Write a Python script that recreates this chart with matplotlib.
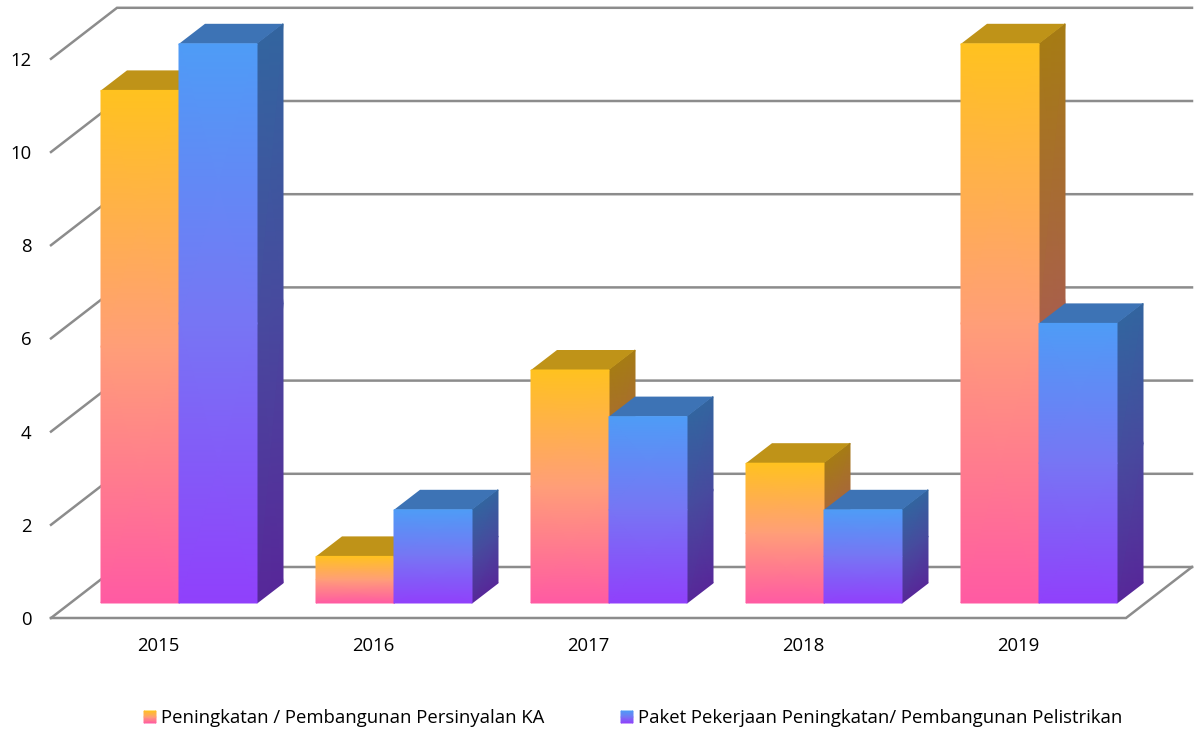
import numpy as np
import matplotlib.pyplot as plt
from matplotlib.colors import to_rgb

years = ['2015', '2016', '2017', '2018', '2019']
persinyalan = [11, 1, 5, 3, 12]
pelistrikan = [12, 2, 4, 2, 6]
y_ticks = [0, 2, 4, 6, 8, 10, 12]
legend_labels = ['Peningkatan / Pembangunan Persinyalan KA',
                 'Paket Pekerjaan Peningkatan/ Pembangunan Pelistrikan']

W, H = 1198, 731
plt.rcParams['font.family'] = ['Open Sans', 'DejaVu Sans']

fig = plt.figure(figsize=(W / 100, H / 100), dpi=100)
# axes = the front edge of the 3d box
ax = fig.add_axes([51 / W, 1 - 618 / H, 1075 / W, 559.2 / H])
ax.set_xlim(-0.5, 4.5)
ax.set_ylim(0, 12)
px_x = 5 / 1075
px_y = 12 / 559.2

depth_x, depth_y = 66 * px_x, 51 * px_y
bar_w = 78 * px_x
bar_dx, bar_dy = 26 * px_x, 20 * px_y
off_x, off_y = 20.5 * px_x, 15 * px_y

# top, middle, bottom of the fill
orange_front = ('#FFC21F', '#FF9E78', '#FF5AA3')
blue_front = ('#4E9CF6', '#7775F4', '#9040FB')
orange_side = ('#A67C14', '#A8604A', '#A83C70')
blue_side = ('#33659F', '#484A9E', '#572899')


def gradient(a, xl, xr, yl, yr, colors):
    # left edge goes yl[0]..yl[1], right edge yr[0]..yr[1], bottom to top
    x = np.array([[xl, xr]] * 3)
    y = np.array([np.linspace(yl[0], yl[1], 3), np.linspace(yr[0], yr[1], 3)]).T
    c = np.array([[to_rgb(col)] * 2 for col in colors[::-1]])
    a.pcolormesh(x, y, c, shading='gouraud', clip_on=False, zorder=3)


def bar3d(x0, v, front, side, roof):
    x1 = x0 + bar_w
    y0 = off_y
    y1 = off_y + v
    gradient(ax, x1, x1 + bar_dx, (y0, y1), (y0 + bar_dy, y1 + bar_dy), side)
    ax.fill([x0, x1, x1 + bar_dx, x0 + bar_dx], [y1, y1, y1 + bar_dy, y1 + bar_dy],
            color=roof, lw=0, clip_on=False, zorder=3)
    gradient(ax, x0, x1, (y0, y1), (y0, y1), front)


# walls
grid_c = '#8c8c8c'
for t in y_ticks:
    ax.plot([-0.5, -0.5 + depth_x, 4.5 + depth_x],
            [t, t + depth_y, t + depth_y],
            color=grid_c, lw=1.8, clip_on=False, zorder=2, solid_joinstyle='miter')
ax.plot([-0.5, 4.5, 4.5 + depth_x], [0, 0, depth_y], color=grid_c, lw=1.8,
        clip_on=False, zorder=2, solid_joinstyle='miter')

for i in range(len(years)):
    x0 = i - bar_w + off_x
    bar3d(x0, persinyalan[i], orange_front, orange_side, '#BF9318')
    bar3d(x0 + bar_w, pelistrikan[i], blue_front, blue_side, '#3D73B5')

for s in ax.spines.values():
    s.set_visible(False)
ax.patch.set_visible(False)
ax.set_xticks(range(len(years)), years)
ax.set_yticks(y_ticks, [str(t) for t in y_ticks])
ax.tick_params(axis='both', length=0, labelsize=13.3, labelcolor='#000000')
ax.tick_params(axis='x', pad=14)
ax.tick_params(axis='y', pad=14)

# legend
for label, sx, tx, colors in [(legend_labels[0], 144, 161, orange_front),
                              (legend_labels[1], 621, 638, blue_front)]:
    sw = fig.add_axes([sx / W, 1 - 723 / H, 12 / W, 12 / H])
    sw.axis('off')
    gradient(sw, 0, 1, (0, 1), (0, 1), colors)
    fig.text(tx / W, 1 - 718 / H, label, fontsize=13.3, va='center', ha='left', color='#000000')

fig.savefig('out.png', dpi=100)
